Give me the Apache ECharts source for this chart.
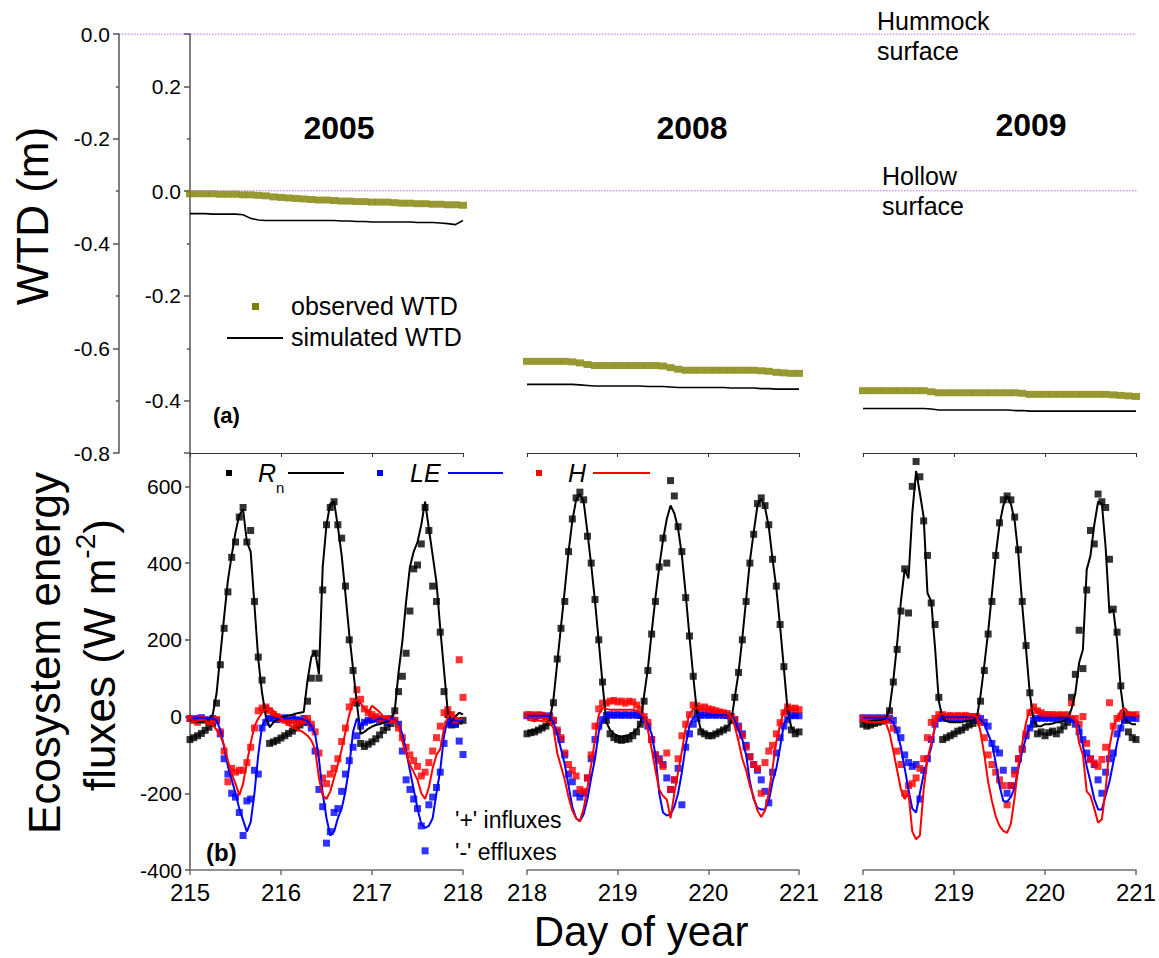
<!DOCTYPE html>
<html>
<head>
<meta charset="utf-8">
<title>WTD and ecosystem energy fluxes</title>
<script src="https://cdn.jsdelivr.net/npm/echarts@6.0.0/dist/echarts.min.js"></script>
<style>
html,body{margin:0;padding:0;background:#ffffff;}
#chart{width:1159px;height:958px;}
</style>
</head>
<body>
<div id="chart"></div>
<script>
// ---------------- categories / labels ----------------
const years = ['2005', '2008', '2009'];
const startDay = [215, 218, 218];           // first day of year on each x axis
const daySpan = 3;                           // each panel covers 3 days
const surfaceLevels = [0, -0.3];             // hummock, hollow surface (m, hummock reference)

// ---------------- WTD (m, hummock reference), every 2 h ----------------
const wtdObs2005 = [-0.305,-0.305,-0.305,-0.305,-0.306,-0.306,-0.306,-0.307,-0.307,-0.308,-0.309,-0.311,-0.312,-0.313,-0.314,-0.315,-0.316,-0.317,-0.317,-0.318,-0.319,-0.319,-0.320,-0.320,-0.321,-0.321,-0.321,-0.322,-0.323,-0.323,-0.324,-0.324,-0.325,-0.325,-0.326,-0.326,-0.327];
const wtdSim2005 = [-0.343,-0.343,-0.343,-0.344,-0.344,-0.344,-0.344,-0.345,-0.352,-0.355,-0.356,-0.356,-0.356,-0.356,-0.356,-0.356,-0.356,-0.356,-0.356,-0.356,-0.357,-0.357,-0.358,-0.358,-0.359,-0.359,-0.359,-0.359,-0.359,-0.359,-0.360,-0.360,-0.360,-0.361,-0.362,-0.364,-0.356];
const wtdObs2008 = [-0.625,-0.625,-0.625,-0.625,-0.625,-0.625,-0.626,-0.628,-0.631,-0.633,-0.633,-0.633,-0.633,-0.633,-0.633,-0.633,-0.633,-0.633,-0.634,-0.637,-0.640,-0.642,-0.642,-0.642,-0.642,-0.642,-0.642,-0.642,-0.642,-0.642,-0.642,-0.643,-0.644,-0.646,-0.647,-0.648,-0.648];
const wtdSim2008 = [-0.669,-0.669,-0.669,-0.669,-0.669,-0.669,-0.669,-0.670,-0.671,-0.672,-0.672,-0.672,-0.672,-0.672,-0.672,-0.672,-0.673,-0.673,-0.673,-0.674,-0.675,-0.675,-0.675,-0.675,-0.675,-0.675,-0.675,-0.676,-0.676,-0.676,-0.676,-0.677,-0.677,-0.678,-0.678,-0.678,-0.678];
const wtdObs2009 = [-0.681,-0.681,-0.681,-0.681,-0.681,-0.681,-0.681,-0.681,-0.681,-0.683,-0.685,-0.685,-0.685,-0.685,-0.685,-0.685,-0.685,-0.685,-0.685,-0.685,-0.685,-0.686,-0.688,-0.688,-0.688,-0.688,-0.688,-0.688,-0.688,-0.688,-0.688,-0.688,-0.688,-0.689,-0.690,-0.691,-0.692];
const wtdSim2009 = [-0.715,-0.715,-0.715,-0.715,-0.715,-0.715,-0.715,-0.715,-0.715,-0.716,-0.718,-0.718,-0.718,-0.718,-0.718,-0.718,-0.718,-0.718,-0.718,-0.718,-0.719,-0.719,-0.720,-0.720,-0.720,-0.720,-0.720,-0.720,-0.720,-0.720,-0.720,-0.720,-0.720,-0.720,-0.720,-0.720,-0.720];

// ---------------- energy fluxes (W m-2), hourly ----------------
const rnObs2005 = [-60,-55,-50,-44,-36,-28,-18,35,135,230,325,415,455,520,545,455,485,300,155,95,20,-70,-66,-62,-56,-50,-44,-38,-30,-22,-15,40,100,165,100,330,500,545,560,500,465,340,200,120,35,-70,-78,-72,-66,-58,-48,-36,-28,-18,15,65,105,165,275,385,395,450,545,485,340,300,220,65,5,-22,-20,-12,-10];
const rnSim2005 = [-8,-12,-15,-15,-12,-8,5,60,160,260,355,420,480,525,540,455,430,290,150,62,0,-28,-15,-8,-3,0,3,5,8,10,12,95,155,170,110,390,500,555,560,495,420,320,215,125,35,-45,-40,-32,-26,-22,-20,-16,-13,-8,15,115,195,300,390,430,455,500,560,490,420,350,230,120,10,-12,0,10,5];
const leObs2005 = [-5,-8,-5,-3,-8,-10,-5,-10,-45,-110,-150,-200,-210,-250,-310,-220,-215,-140,-150,-30,-15,-5,-3,-8,-5,-3,-10,-5,-8,-12,-5,-15,-30,-90,-190,-235,-330,-300,-250,-240,-195,-150,-115,-80,-50,-25,-15,-10,-8,-5,-10,-8,-12,-5,-10,-20,-90,-165,-190,-215,-240,-285,-350,-230,-210,-185,-145,-70,-20,-15,-20,-64,-99];
const leSim2005 = [-3,-5,-5,-3,-5,-5,-5,-10,-35,-80,-130,-165,-200,-240,-270,-300,-275,-200,-100,-25,-5,0,-3,-5,-5,-5,-5,-3,-5,-5,-8,-12,-25,-45,-110,-200,-265,-310,-300,-265,-240,-195,-130,-40,-5,-25,-12,-8,-15,-10,-5,-8,-10,-5,-10,-20,-45,-90,-140,-190,-240,-280,-290,-285,-265,-200,-140,-50,-5,-8,-10,-12,-10];
const hObs2005 = [-5,-10,-15,-5,-10,-15,-10,-8,-40,-90,-170,-135,-145,-140,-140,-120,-80,-30,15,22,25,15,5,0,-5,-10,-15,-10,-20,-15,-10,-5,-20,-40,-95,-160,-175,-150,-135,-110,-65,-30,25,40,70,45,20,10,5,0,-5,-10,-5,-10,-10,-30,-55,-80,-100,-115,-130,-155,-145,-120,-90,-55,-25,10,18,5,-10,148,50];
const hSim2005 = [0,-15,-12,-8,-10,-15,-22,-35,-50,-75,-115,-150,-175,-205,-175,-120,-70,-25,-5,10,20,22,15,5,-5,-12,-22,-28,-33,-36,-42,-50,-62,-85,-160,-205,-215,-195,-160,-125,-85,-40,5,36,44,36,20,10,28,20,12,0,-5,-10,-12,-25,-65,-95,-125,-145,-165,-200,-215,-185,-135,-100,-85,-30,0,10,-5,-8,-5];

const rnObs2008 = [-45,-42,-40,-35,-30,-25,-15,36,150,230,300,430,515,570,585,565,470,400,305,200,90,-10,-45,-55,-60,-62,-60,-58,-50,-40,-20,40,120,215,300,390,465,400,615,575,495,430,310,210,105,10,-40,-45,-50,-50,-45,-40,-35,-30,-10,50,115,200,300,400,475,555,570,550,500,410,340,240,130,15,-35,-45,-40];
const rnSim2008 = [-40,-38,-35,-32,-28,-22,-10,45,140,235,330,430,510,565,580,560,480,395,300,195,85,-15,-35,-45,-50,-52,-50,-48,-42,-35,-20,55,125,220,310,390,460,515,550,530,490,420,320,210,105,10,-35,-42,-45,-45,-42,-38,-32,-28,-15,50,115,205,305,405,480,550,568,545,495,410,335,235,125,15,-30,-38,-35];
const leObs2008 = [2,3,0,2,3,0,2,-10,-40,-60,-100,-150,-170,-200,-210,-200,-160,-110,-60,-25,-8,3,5,3,5,3,5,3,5,3,3,-8,-25,-60,-100,-110,-125,-160,-190,-165,-135,-230,-80,-45,-20,-5,3,5,3,5,3,5,3,3,0,-8,-25,-45,-75,-105,-125,-140,-165,-195,-225,-145,-95,-55,-25,-8,2,3,2];
const leSim2008 = [2,2,2,2,2,2,0,-15,-45,-85,-125,-180,-235,-265,-273,-255,-215,-160,-110,-40,-10,3,4,4,4,4,4,4,4,4,3,-5,-20,-45,-100,-200,-250,-258,-255,-235,-200,-145,-75,-25,-3,4,4,4,4,4,4,4,4,3,2,-10,-35,-60,-100,-170,-215,-238,-242,-242,-220,-170,-135,-80,-20,-2,2,2,2];
const hObs2008 = [5,5,3,5,3,0,-5,-10,-35,-55,-95,-125,-140,-155,-190,-195,-160,-100,-25,20,35,35,40,42,38,40,35,40,38,30,20,0,-15,-60,-100,-115,-130,-95,-190,-165,-110,-50,-20,5,30,28,22,25,20,18,15,12,10,8,0,-8,-30,-50,-80,-105,-125,-135,-200,-120,-90,-75,-45,-16,10,25,20,22,18];
const hSim2008 = [-8,-10,-12,-10,-12,-12,-15,-30,-95,-130,-165,-210,-245,-265,-273,-240,-185,-125,-60,5,22,20,18,18,18,18,18,18,18,15,10,0,-35,-85,-140,-190,-207,-216,-265,-200,-145,-90,-30,5,20,22,20,18,18,16,15,15,12,8,0,-25,-65,-110,-140,-180,-210,-245,-262,-245,-200,-135,-65,-20,15,22,20,18,18];

const rnObs2009 = [-20,-25,-22,-18,-15,-12,-8,15,90,175,275,385,270,600,665,625,510,420,296,240,50,-60,-55,-50,-45,-38,-35,-28,-22,-18,-10,40,120,215,300,420,505,565,575,565,520,435,300,185,62,-20,-45,-40,-50,-42,-38,-45,-35,-25,-15,50,110,225,125,330,485,450,580,560,545,410,280,220,80,-10,-40,-55,-60];
const rnSim2009 = [-15,-15,-12,-10,-10,-8,-5,20,95,190,300,385,360,530,640,582,520,322,300,180,40,-5,-12,-15,-15,-15,-15,-12,-10,-10,-5,55,135,220,320,420,500,550,575,555,510,420,290,175,60,-10,-25,-25,-20,-20,-18,-15,-15,-12,-5,20,60,140,175,383,420,500,560,555,440,270,279,200,70,-5,-15,-20,-20];
const leObs2009 = [-3,-5,-3,-5,-3,-5,-3,-5,-10,-35,-55,-100,-120,-130,-125,-215,-140,-110,-60,-20,-5,-3,-5,-3,-5,-3,-5,-3,-5,-3,-5,-5,-15,-25,-70,-85,-95,-140,-200,-180,-140,-110,-85,-50,-30,-10,-5,-3,-5,-3,-5,-3,-5,-3,-5,-8,-20,-40,-60,-95,-110,-125,-165,-200,-145,-110,-95,-45,-30,-8,-5,-3,-5];
const leSim2009 = [-3,-3,-3,-3,-3,-3,-3,-8,-16,-40,-80,-135,-190,-240,-250,-200,-150,-115,-80,-25,-3,-2,-2,-2,-2,-2,-2,-2,-2,-2,-2,-8,-20,-45,-70,-120,-180,-220,-222,-210,-185,-135,-90,-55,-25,-5,-3,-3,-3,-3,-3,-3,-3,-3,-3,-8,-15,-25,-75,-130,-170,-215,-242,-242,-205,-170,-120,-70,-25,-3,-2,-3,-3];
const hObs2009 = [-5,-8,-5,-8,-5,-8,-5,-10,-30,-90,-125,-200,-180,-175,-160,-135,-110,-55,-15,-5,5,5,0,3,0,3,0,3,0,0,0,-15,-55,-100,-125,-145,-165,-180,-230,-180,-150,-110,-85,-45,10,25,15,10,5,5,5,3,5,3,5,36,-5,-20,0,-70,-112,-121,-130,-112,-80,36,-25,-5,0,5,5,3,5];
const hSim2009 = [-12,-15,-15,-15,-15,-15,-16,-43,-90,-140,-190,-215,-200,-300,-320,-310,-190,-110,-70,-25,5,8,5,5,5,5,5,5,3,3,0,-40,-100,-170,-220,-260,-285,-298,-303,-280,-210,-125,-70,-15,18,22,10,8,5,5,5,5,5,5,3,0,-8,-69,-100,-195,-207,-240,-277,-268,-190,-80,-25,-5,15,22,10,8,8];

// ---------------- layout & style ----------------
const FONT = '"Liberation Sans", Arial, Helvetica, sans-serif';
const colLeft = [190, 527, 863];
const colWidth = [273, 272, 273];
const topY = 34, midY = 453, botY = 870;
const OLIVE = '#808000', BLUE = '#0000ff', RED = '#ff0000', BLACK = '#000000';

const wtdObs = [wtdObs2005, wtdObs2008, wtdObs2009];
const wtdSim = [wtdSim2005, wtdSim2008, wtdSim2009];
const flux = [
  {rnObs: rnObs2005, rnSim: rnSim2005, leObs: leObs2005, leSim: leSim2005, hObs: hObs2005, hSim: hSim2005},
  {rnObs: rnObs2008, rnSim: rnSim2008, leObs: leObs2008, leSim: leSim2008, hObs: hObs2008, hSim: hSim2008},
  {rnObs: rnObs2009, rnSim: rnSim2009, leObs: leObs2009, leSim: leSim2009, hObs: hObs2009, hSim: hSim2009}
];

const every2h = (d0, arr) => arr.map((v, k) => [d0 + k / 12, v]);
const hourly = (d0, arr) => arr.map((v, k) => [d0 + k / 24, v]);
const fmt1 = v => (Math.abs(v) < 1e-9 ? 0 : v).toFixed(1);

const grid = [];
for (let i = 0; i < 3; i++) grid.push({left: colLeft[i], top: topY, width: colWidth[i], height: midY - topY, containLabel: false, outerBoundsMode: 'none'});
for (let i = 0; i < 3; i++) grid.push({left: colLeft[i], top: midY, width: colWidth[i], height: botY - midY, containLabel: false, outerBoundsMode: 'none'});
grid.push({left: 119, top: topY, width: 1136 - 119, height: 418, containLabel: false, outerBoundsMode: 'none'}); // hummock reference
grid.push({left: 190, top: topY, width: 1137 - 190, height: 418, containLabel: false, outerBoundsMode: 'none'}); // hollow reference

const xAxis = [];
for (let i = 0; i < 3; i++) xAxis.push({
  gridIndex: i, type: 'value', position: 'bottom', min: startDay[i], max: startDay[i] + daySpan, interval: 1,
  axisLine: {show: true, onZero: false, lineStyle: {color: '#333', width: 1}},
  axisTick: {show: true, length: 4, lineStyle: {color: '#333', width: 1}},
  axisLabel: {show: false}, splitLine: {show: false}
});
for (let i = 0; i < 3; i++) xAxis.push({
  gridIndex: 3 + i, type: 'value', position: 'bottom', min: startDay[i], max: startDay[i] + daySpan, interval: 1,
  axisLine: {show: true, onZero: false, lineStyle: {color: '#6e6e6e', width: 1.5}},
  axisTick: {show: true, length: 5, lineStyle: {color: '#6e6e6e', width: 1.5}},
  axisLabel: {show: true, fontSize: 24, fontFamily: FONT, color: '#000', margin: 10},
  splitLine: {show: false}
});
xAxis.push({gridIndex: 6, type: 'value', min: 0, max: 1, show: false});
xAxis.push({gridIndex: 7, type: 'value', min: 0, max: 1, show: false});

const yAxisCommonLine = {show: true, onZero: false, lineStyle: {color: '#555', width: 1.5}};
const yAxis = [
  // outer WTD axis (hummock reference) on column 1
  {gridIndex: 0, type: 'value', position: 'left', offset: 71, min: -0.8, max: 0, interval: 0.2,
   axisLine: yAxisCommonLine,
   axisTick: {show: true, length: 6, lineStyle: {color: '#555', width: 1.5}},
   minorTick: {show: true, splitNumber: 2, length: 3, lineStyle: {color: '#555', width: 1.5}},
   axisLabel: {fontSize: 21, fontFamily: FONT, color: '#000', margin: 9, formatter: fmt1},
   splitLine: {show: false}, minorSplitLine: {show: false}},
  {gridIndex: 1, type: 'value', min: -0.8, max: 0, show: false},
  {gridIndex: 2, type: 'value', min: -0.8, max: 0, show: false},
  // flux axes
  {gridIndex: 3, type: 'value', position: 'left', min: -400, max: 687, interval: 200,
   axisLine: yAxisCommonLine,
   axisTick: {show: true, length: 5, lineStyle: {color: '#555', width: 1.5}},
   axisLabel: {fontSize: 21, fontFamily: FONT, color: '#000', margin: 8, showMaxLabel: false},
   splitLine: {show: false}},
  {gridIndex: 4, type: 'value', min: -400, max: 687, show: false},
  {gridIndex: 5, type: 'value', min: -400, max: 687, show: false},
  {gridIndex: 6, type: 'value', min: -0.8, max: 0, show: false},
  {gridIndex: 7, type: 'value', min: -0.8, max: 0, show: false},
  // inner WTD axis (hollow reference) on column 1
  {gridIndex: 0, type: 'value', position: 'left', offset: 0, min: -0.5, max: 0.3, splitNumber: 4,
   axisLine: yAxisCommonLine,
   axisTick: {show: true, length: 6, lineStyle: {color: '#555', width: 1.5}},
   minorTick: {show: true, splitNumber: 2, length: 3, lineStyle: {color: '#555', width: 1.5}},
   axisLabel: {fontSize: 21, fontFamily: FONT, color: '#000', margin: 9, formatter: fmt1, showMinLabel: false, showMaxLabel: false},
   splitLine: {show: false}, minorSplitLine: {show: false}}
];

const series = [];
// surface reference lines
series.push({type: 'line', xAxisIndex: 6, yAxisIndex: 6, data: [[0, surfaceLevels[0]], [1, surfaceLevels[0]]], symbol: 'none', silent: true,
  lineStyle: {color: '#9a3af5', width: 1.2, type: [1.5, 1.5]}, z: 1});
series.push({type: 'line', xAxisIndex: 7, yAxisIndex: 7, data: [[0, surfaceLevels[1]], [1, surfaceLevels[1]]], symbol: 'none', silent: true,
  lineStyle: {color: '#b06ef5', width: 1.2, type: [1.5, 1.5]}, z: 4});
for (let i = 0; i < 3; i++) {
  series.push({type: 'scatter', name: 'observed WTD', xAxisIndex: i, yAxisIndex: i, data: every2h(startDay[i], wtdObs[i]),
    symbol: 'rect', symbolSize: [8, 7], itemStyle: {color: OLIVE}, silent: true, z: 2});
  series.push({type: 'line', name: 'simulated WTD', xAxisIndex: i, yAxisIndex: i, data: every2h(startDay[i], wtdSim[i]),
    symbol: 'none', lineStyle: {color: BLACK, width: 1.6}, silent: true, z: 3});
}
for (let i = 0; i < 3; i++) {
  const f = flux[i], xi = 3 + i, yi = 3 + i, d0 = startDay[i];
  const sq = (name, arr, color) => ({type: 'scatter', name, xAxisIndex: xi, yAxisIndex: yi, data: hourly(d0, arr),
    symbol: 'rect', symbolSize: 7, itemStyle: {color}, silent: true, z: 2});
  const ln = (name, arr, color) => ({type: 'line', name, xAxisIndex: xi, yAxisIndex: yi, data: hourly(d0, arr),
    symbol: 'none', lineStyle: {color, width: 2}, silent: true, z: 3});
  series.push(sq('Rn obs', f.rnObs, BLACK), sq('LE obs', f.leObs, BLUE), sq('H obs', f.hObs, RED),
              ln('Rn sim', f.rnSim, BLACK), ln('LE sim', f.leSim, BLUE), ln('H sim', f.hSim, RED));
}

// ---------------- text & legend keys ----------------
function T(x, y, text, size, o) {
  o = o || {};
  const al = o.align || 'left';
  return {type: 'text', x, y, z: 100, rotation: o.rotation || 0, silent: true,
    style: Object.assign({text, fontSize: size, fontFamily: FONT, fontWeight: o.weight || 'normal', fontStyle: o.italic ? 'italic' : 'normal',
      fill: '#000', align: al, textAlign: al, verticalAlign: 'middle', textVerticalAlign: 'middle'}, o.style || {})};
}
const R = (x, y, w, h, c) => ({type: 'rect', z: 100, silent: true, shape: {x, y, width: w, height: h}, style: {fill: c}});
const L = (x1, y1, x2, y2, c, w) => ({type: 'line', z: 100, silent: true, shape: {x1, y1, x2, y2}, style: {stroke: c, lineWidth: w}});

const yearX = [339, 692, 1031], yearY = [128, 128, 125];
const graphic = [];
years.forEach((yr, i) => graphic.push(T(yearX[i], yearY[i], yr, 32, {weight: 'bold', align: 'center'})));
graphic.push(
  T(877, 21, 'Hummock', 25), T(877, 51, 'surface', 25),
  T(882, 176, 'Hollow', 25), T(882, 206, 'surface', 25),
  R(252, 303, 7, 7, OLIVE), T(291, 306, 'observed WTD', 25),
  L(227, 338, 283, 338, BLACK, 2), T(291, 337, 'simulated WTD', 25),
  T(213, 415, '(a)', 22, {weight: 'bold'}),
  T(206, 852, '(b)', 24, {weight: 'bold'}),
  T(455, 820, "'+' influxes", 23), T(455, 852, "'-' effluxes", 23),
  R(226, 470, 6, 6, BLACK), T(258, 473, 'R', 25, {italic: true}), T(276, 487, 'n', 15), L(288, 473, 344, 473, BLACK, 2),
  R(377, 470, 6, 6, BLUE), T(410, 473, 'LE', 25, {italic: true}), L(448, 473, 503, 473, BLUE, 2),
  R(536, 470, 6, 6, RED), T(568, 473, 'H', 25, {italic: true}), L(593, 473, 650, 473, RED, 2),
  T(32, 216, 'WTD (m)', 44, {rotation: Math.PI / 2, align: 'center'}),
  T(44, 653, 'Ecosystem energy', 44, {rotation: Math.PI / 2, align: 'center'}),
  T(96, 655, '{a|fluxes (W m}{s|-2}{a|)}', 44, {rotation: Math.PI / 2, align: 'center', style: {
    rich: {a: {fontSize: 44, fontFamily: FONT, lineHeight: 50, verticalAlign: 'bottom'},
           s: {fontSize: 28, fontFamily: FONT, lineHeight: 30, verticalAlign: 'top'}}}}),
  T(641, 931, 'Day of year', 42, {align: 'center'})
);

const chart = echarts.init(document.getElementById('chart'), null, {renderer: 'svg', width: 1159, height: 958});
chart.setOption({
  backgroundColor: '#ffffff',
  animation: false,
  textStyle: {fontFamily: FONT},
  grid, xAxis, yAxis, series, graphic
});
</script>
</body>
</html>
